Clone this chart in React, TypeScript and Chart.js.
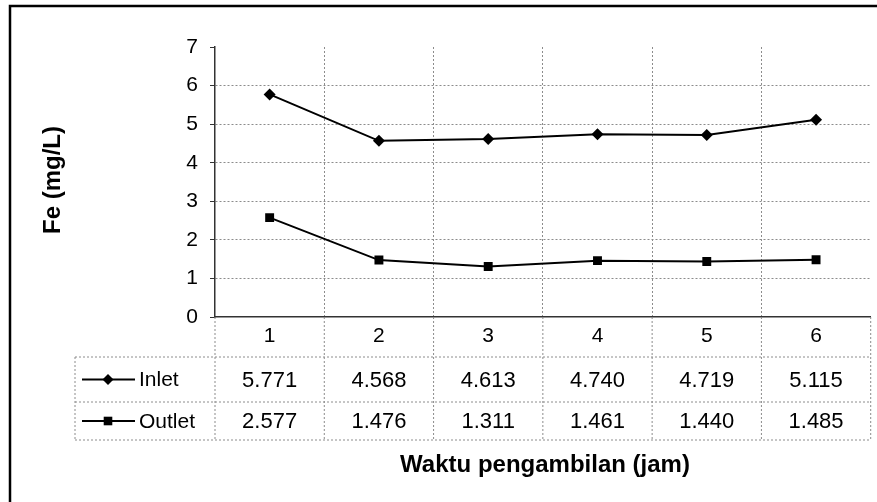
import React, { useEffect, useRef } from 'react';
import { Chart, registerables } from 'chart.js';

Chart.register(...registerables);

const categories = ['1', '2', '3', '4', '5', '6'];
const inletValues = [5.771, 4.568, 4.613, 4.74, 4.719, 5.115];
const outletValues = [2.577, 1.476, 1.311, 1.461, 1.44, 1.485];
const seriesNames = ['Inlet', 'Outlet'];
const yMin = 0;
const yMax = 7;
const yStep = 1;
const xTitle = 'Waktu pengambilan (jam)';
const yTitle = 'Fe (mg/L)';

const FONT = "'Liberation Sans', Arial, Helvetica, sans-serif";

function dotted(ctx: CanvasRenderingContext2D, x1: number, y1: number, x2: number, y2: number) {
  ctx.save();
  ctx.strokeStyle = '#8c8c8c';
  ctx.lineWidth = 1;
  ctx.setLineDash([2, 2]);
  ctx.beginPath();
  ctx.moveTo(x1, y1);
  ctx.lineTo(x2, y2);
  ctx.stroke();
  ctx.restore();
}

function marker(ctx: CanvasRenderingContext2D, kind: string, cx: number, cy: number) {
  ctx.save();
  ctx.fillStyle = '#000';
  ctx.beginPath();
  if (kind === 'rectRot') {
    const r = 5.5;
    ctx.moveTo(cx, cy - r);
    ctx.lineTo(cx + r, cy);
    ctx.lineTo(cx, cy + r);
    ctx.lineTo(cx - r, cy);
    ctx.closePath();
  } else {
    const s = 4.3;
    ctx.rect(cx - s, cy - s, 2 * s, 2 * s);
  }
  ctx.fill();
  ctx.restore();
}

const tablePlugin = {
  id: 'dataTable',
  afterDraw(chart: any) {
    const ctx: CanvasRenderingContext2D = chart.ctx;
    const xs = chart.scales.x;
    const n = categories.length;
    const band = (xs.right - xs.left) / n;
    const tableLeft = 75;
    const rowTop = xs.bottom;
    const rowMid = rowTop + 45;
    const rowBottom = rowMid + 38;
    const right = xs.right;

    dotted(ctx, tableLeft, rowTop, right, rowTop);
    dotted(ctx, tableLeft, rowMid, right, rowMid);
    dotted(ctx, tableLeft, rowBottom, right, rowBottom);
    dotted(ctx, tableLeft, rowTop, tableLeft, rowBottom);
    for (let i = 0; i <= n; i++) {
      const x = xs.left + i * band;
      dotted(ctx, x, xs.top, x, rowBottom);
    }

    const rows = [
      { name: seriesNames[0], values: inletValues, kind: 'rectRot', y: (rowTop + rowMid) / 2 },
      { name: seriesNames[1], values: outletValues, kind: 'rect', y: (rowMid + rowBottom) / 2 },
    ];
    ctx.save();
    ctx.fillStyle = '#000';
    ctx.textBaseline = 'middle';
    rows.forEach((r) => {
      ctx.save();
      ctx.strokeStyle = '#000';
      ctx.lineWidth = 2;
      ctx.beginPath();
      ctx.moveTo(82, r.y);
      ctx.lineTo(135, r.y);
      ctx.stroke();
      ctx.restore();
      marker(ctx, r.kind, 108, r.y);
      ctx.font = `21px ${FONT}`;
      ctx.textAlign = 'left';
      ctx.fillText(r.name, 139, r.y + 1);
      ctx.font = `22px ${FONT}`;
      ctx.textAlign = 'center';
      r.values.forEach((v, i) => {
        ctx.fillText(v.toFixed(3), xs.getPixelForValue(i), r.y + 1);
      });
    });

    ctx.font = `bold 24px ${FONT}`;
    ctx.textAlign = 'center';
    ctx.textBaseline = 'alphabetic';
    ctx.fillText(xTitle, 545, 472);
    ctx.save();
    ctx.translate(60, 180);
    ctx.rotate(-Math.PI / 2);
    ctx.fillText(yTitle, 0, 0);
    ctx.restore();
    ctx.restore();

    ctx.save();
    ctx.strokeStyle = '#000';
    ctx.lineWidth = 2.5;
    ctx.beginPath();
    ctx.moveTo(10, 502);
    ctx.lineTo(10, 6);
    ctx.lineTo(877, 6);
    ctx.stroke();
    ctx.restore();
  },
};

export default function App() {
  const ref = useRef<HTMLCanvasElement | null>(null);
  useEffect(() => {
    if (!ref.current) return;
    const chart = new Chart(ref.current, {
      type: 'line',
      data: {
        labels: categories,
        datasets: [
          {
            label: seriesNames[0],
            data: inletValues,
            borderColor: '#000',
            backgroundColor: '#000',
            borderWidth: 2,
            pointStyle: 'rectRot',
            pointRadius: 6,
            pointBorderWidth: 0,
            tension: 0,
          },
          {
            label: seriesNames[1],
            data: outletValues,
            borderColor: '#000',
            backgroundColor: '#000',
            borderWidth: 2,
            pointStyle: 'rect',
            pointRadius: 6.3,
            pointBorderWidth: 0,
            tension: 0,
          },
        ],
      },
      options: {
        responsive: false,
        animation: false,
        layout: { padding: { left: 0, top: 47, right: 6, bottom: 145 } },
        plugins: { legend: { display: false }, tooltip: { enabled: false } },
        scales: {
          x: {
            offset: true,
            afterFit: (s: any) => {
              s.height = 40;
            },
            grid: {
              offset: true,
              drawTicks: false,
              color: (c: any) => (c.type !== 'tick' || c.index === 0 ? 'transparent' : '#8c8c8c'),
            },
            border: { color: '#333', width: 1.5, dash: [2, 2] },
            ticks: { color: '#000', font: { family: FONT, size: 21 }, padding: 7 },
          },
          y: {
            min: yMin,
            max: yMax,
            afterFit: (s: any) => {
              s.width = 215;
            },
            grid: {
              color: (c: any) =>
                c.tick && (c.tick.value === yMin || c.tick.value === yMax) ? 'transparent' : '#8c8c8c',
              drawTicks: true,
              tickLength: 5,
              tickColor: '#333',
            },
            border: { color: '#333', width: 1.5, dash: [2, 2] },
            ticks: { stepSize: yStep, color: '#000', font: { family: FONT, size: 21 }, padding: 12 },
          },
        },
      },
      plugins: [tablePlugin],
    });
    return () => chart.destroy();
  }, []);
  return (
    <div style={{ position: 'fixed', left: 0, top: 0, width: 877, height: 502, background: '#fff' }}>
      <canvas ref={ref} width={877} height={502} style={{ display: 'block' }} />
    </div>
  );
}
